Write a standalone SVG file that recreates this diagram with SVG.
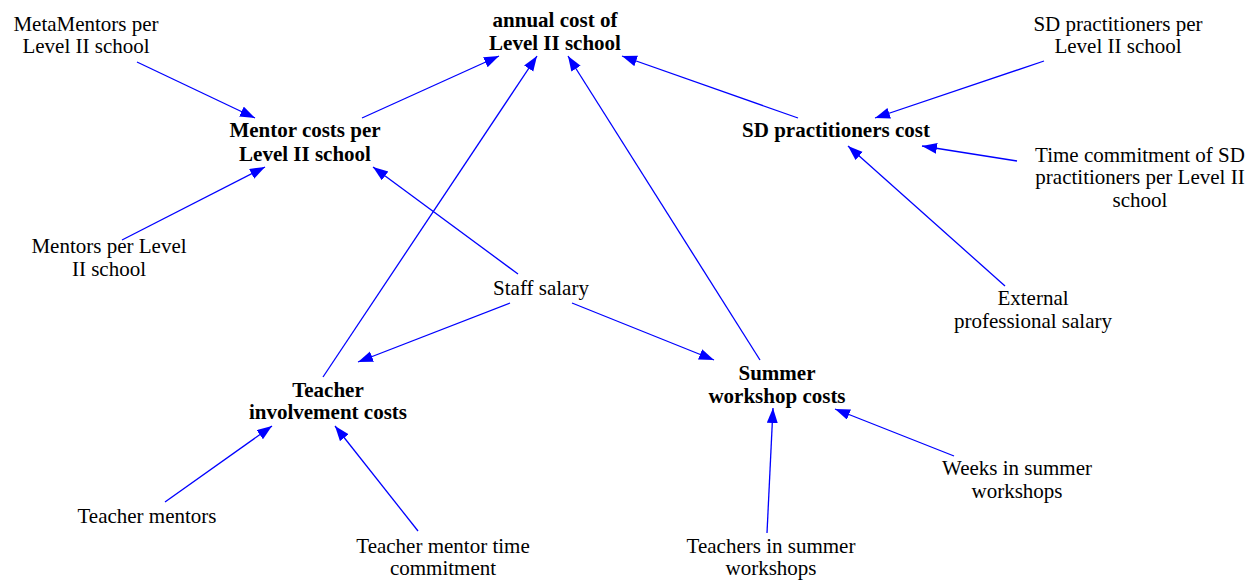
<svg xmlns="http://www.w3.org/2000/svg" width="1256" height="580" viewBox="0 0 1256 580">
<style>
.t text{font-family:'Liberation Serif','Tinos','DejaVu Serif',serif;font-size:21px;fill:#000;text-anchor:middle}
.t .b{font-weight:bold}
.e line{stroke:#0000ff;stroke-width:1.3;fill:none}
</style>
<defs>
<marker id="ah" markerUnits="userSpaceOnUse" markerWidth="16" markerHeight="12" refX="15" refY="5.5" orient="auto">
<path d="M0,0 L15,5.5 L0,11 z" fill="#0000ff"/>
</marker>
</defs>
<rect width="1256" height="580" fill="#fff"/>
<g class="e" id="connectors">
<line x1="137" y1="62" x2="255" y2="118" marker-end="url(#ah)"/>
<line x1="122" y1="240" x2="265" y2="167" marker-end="url(#ah)"/>
<line x1="362" y1="118" x2="499" y2="56" marker-end="url(#ah)"/>
<line x1="323" y1="377" x2="537" y2="56" marker-end="url(#ah)"/>
<line x1="760" y1="360" x2="568" y2="56" marker-end="url(#ah)"/>
<line x1="798" y1="118" x2="622" y2="56" marker-end="url(#ah)"/>
<line x1="1044" y1="61" x2="875" y2="118" marker-end="url(#ah)"/>
<line x1="1017" y1="161" x2="922" y2="146" marker-end="url(#ah)"/>
<line x1="1005" y1="286" x2="848" y2="146" marker-end="url(#ah)"/>
<line x1="518" y1="274" x2="373" y2="167" marker-end="url(#ah)"/>
<line x1="510" y1="303" x2="358" y2="362" marker-end="url(#ah)"/>
<line x1="572" y1="303" x2="714" y2="360" marker-end="url(#ah)"/>
<line x1="165" y1="502" x2="272" y2="426" marker-end="url(#ah)"/>
<line x1="418" y1="531" x2="335" y2="426" marker-end="url(#ah)"/>
<line x1="767" y1="533" x2="773" y2="408" marker-end="url(#ah)"/>
<line x1="954" y1="456" x2="835" y2="409" marker-end="url(#ah)"/>
</g>
<g class="t" font-family="Liberation Serif, serif">
<g id="annual"><text class="b" x="555" y="27">annual cost of</text><text class="b" x="555" y="50">Level II school</text></g>
<g id="metamentors"><text x="86" y="31">MetaMentors per</text><text x="86" y="53">Level II school</text></g>
<g id="mentorcosts"><text class="b" x="305" y="137">Mentor costs per</text><text class="b" x="305" y="161">Level II school</text></g>
<g id="sdcost"><text class="b" x="836" y="137">SD practitioners cost</text></g>
<g id="sdper"><text x="1118" y="31">SD practitioners per</text><text x="1118" y="53">Level II school</text></g>
<g id="timecommit"><text x="1140" y="162">Time commitment of SD</text><text x="1140" y="184">practitioners per Level II</text><text x="1140" y="207">school</text></g>
<g id="external"><text x="1033" y="305">External</text><text x="1033" y="328">professional salary</text></g>
<g id="mentorsper"><text x="109" y="253">Mentors per Level</text><text x="109" y="276">II school</text></g>
<g id="staffsalary"><text x="541" y="295">Staff salary</text></g>
<g id="teacherinv"><text class="b" x="328" y="397">Teacher</text><text class="b" x="328" y="419">involvement costs</text></g>
<g id="summer"><text class="b" x="777" y="380">Summer</text><text class="b" x="777" y="403">workshop costs</text></g>
<g id="teachermentors"><text x="147" y="523">Teacher mentors</text></g>
<g id="mentortime"><text x="443" y="553">Teacher mentor time</text><text x="443" y="575">commitment</text></g>
<g id="teachersinsummer"><text x="771" y="553">Teachers in summer</text><text x="771" y="575">workshops</text></g>
<g id="weeks"><text x="1017" y="475">Weeks in summer</text><text x="1017" y="498">workshops</text></g>
</g>
</svg>
